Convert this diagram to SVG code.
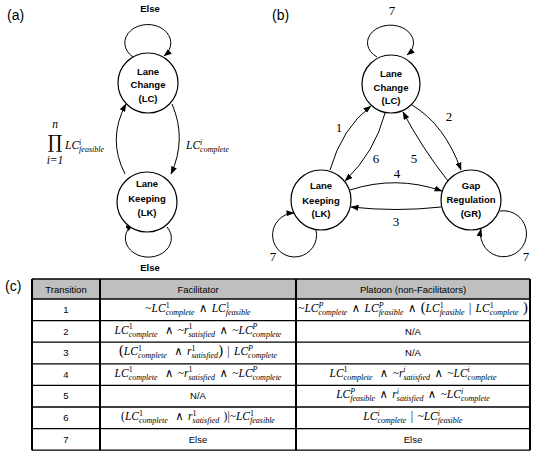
<svg xmlns="http://www.w3.org/2000/svg" width="540" height="462" viewBox="0 0 540 462">
<defs>
<marker id="ah" markerWidth="8" markerHeight="6" refX="7.5" refY="3" orient="auto" markerUnits="userSpaceOnUse"><path d="M0,0 L8,3 L0,6 z" fill="#000"/></marker>
<style>
.nd{fill:#fff;stroke:#000;stroke-width:1.2}
.nt{font-family:"Liberation Sans",Arial,sans-serif;font-weight:bold;font-size:9.5px;text-anchor:middle;fill:#000}
.ed{fill:none;stroke:#000;stroke-width:1;marker-end:url(#ah)}
.pl{font-family:"Liberation Sans",Arial,sans-serif;font-size:14px;fill:#000}
.el{font-family:"Liberation Serif","Times New Roman",serif;font-size:13px;text-anchor:middle;fill:#000}
.m{font-family:"Liberation Serif","DejaVu Serif",serif;font-style:italic;font-size:11.5px;text-anchor:middle;fill:#000;word-spacing:1.5px}
.s{font-size:8px;font-style:italic}
.u{font-size:8px;font-style:normal}
.t{font-family:"Liberation Sans",Arial,sans-serif;font-size:9.5px;text-anchor:middle;fill:#000}
.bp{font-size:14.5px;font-style:normal}
</style>
</defs>

<!-- Panel labels -->
<text class="pl" x="7" y="20">(a)</text>
<text class="pl" x="272" y="20">(b)</text>
<text class="pl" x="5" y="291">(c)</text>

<!-- Panel (a) connectors -->
<g id="edges-a">
<path class="ed" d="M133,57 A23,18.4 0 1 1 164,56"/>
<path class="ed" d="M167,227 A23,19 0 1 1 133,224"/>
<path class="ed" d="M125,174 Q107,139 126,104"/>
<path class="ed" d="M172,104 Q187,139 171,174"/>
</g>
<g id="labels-a">
<text class="nt" x="150" y="12" font-size="10">Else</text>
<text class="nt" x="150" y="271" font-size="10">Else</text>
<text x="55" y="148" font-family="DejaVu Serif,serif" font-size="18" text-anchor="middle">∏</text>
<text x="55" y="128" class="m" font-size="8">n</text>
<text x="55" y="164" class="m" font-size="8" font-style="normal">i=1</text>
<text x="65" y="149" class="m" style="text-anchor:start">LC<tspan class="s" dy="-4.5">i</tspan><tspan class="s" dx="-2.2" dy="7.5">feasible</tspan></text>
<text x="186" y="149" class="m" style="text-anchor:start">LC<tspan class="s" dy="-4.5">i</tspan><tspan class="s" dx="-2.2" dy="7.5">complete</tspan></text>
</g>
<g id="a-LC">
<circle class="nd" cx="148" cy="83" r="30"/>
<text class="nt" x="148" y="74.5">Lane</text>
<text class="nt" x="148" y="87.5">Change</text>
<text class="nt" x="148" y="101.5">(LC)</text>
</g>
<g id="a-LK">
<circle class="nd" cx="147" cy="202" r="30"/>
<text class="nt" x="147" y="186.5">Lane</text>
<text class="nt" x="147" y="201.5">Keeping</text>
<text class="nt" x="147" y="215.5">(LK)</text>
</g>

<!-- Panel (b) connectors -->
<g id="edges-b">
<path class="ed" d="M377,57 A23,17.6 0 1 1 407,55"/>
<path class="ed" d="M316,230 A22,22 0 1 1 294,213"/>
<path class="ed" d="M500,211 A23,23 0 1 1 481,229"/>
<path class="ed" d="M330,170 Q342,128 371,106"/>
<path class="ed" d="M385,113 Q375,152 345,181"/>
<path class="ed" d="M412,105 Q445,125 461,170"/>
<path class="ed" d="M448,181 Q422,148 403,112"/>
<path class="ed" d="M350,190 Q396,175 442,191"/>
<path class="ed" d="M441,207 Q396,212 351,207"/>
</g>
<g id="labels-b">
<text class="el" x="392" y="15">7</text>
<text class="el" x="273" y="261">7</text>
<text class="el" x="526" y="261">7</text>
<text class="el" x="339" y="132">1</text>
<text class="el" x="449" y="121">2</text>
<text class="el" x="396" y="226">3</text>
<text class="el" x="397" y="178">4</text>
<text class="el" x="414" y="163">5</text>
<text class="el" x="376" y="163">6</text>
</g>
<g id="b-LC">
<circle class="nd" cx="391" cy="84" r="29"/>
<text class="nt" x="391" y="76.5">Lane</text>
<text class="nt" x="391" y="90.5">Change</text>
<text class="nt" x="391" y="103.5">(LC)</text>
</g>
<g id="b-LK">
<circle class="nd" cx="321" cy="200" r="30"/>
<text class="nt" x="321" y="188.5">Lane</text>
<text class="nt" x="321" y="203.5">Keeping</text>
<text class="nt" x="321" y="216.5">(LK)</text>
</g>
<g id="b-GR">
<circle class="nd" cx="471" cy="200" r="30"/>
<text class="nt" x="471" y="188.5">Gap</text>
<text class="nt" x="471" y="202.5">Regulation</text>
<text class="nt" x="471" y="216.5">(GR)</text>
</g>

<!-- Panel (c) table -->
<g id="table">
<rect x="32" y="279" width="498" height="20" fill="#bfbfbf"/>
<g stroke="#000" stroke-width="1.3" fill="none">
<line x1="32" y1="299" x2="530" y2="299"/>
<line x1="32" y1="320.6" x2="530" y2="320.6"/>
<line x1="32" y1="342.2" x2="530" y2="342.2"/>
<line x1="32" y1="363.8" x2="530" y2="363.8"/>
<line x1="32" y1="385.4" x2="530" y2="385.4"/>
<line x1="32" y1="407" x2="530" y2="407"/>
<line x1="32" y1="428.6" x2="530" y2="428.6"/>
<line x1="32" y1="279" x2="530" y2="279"/>
<line x1="32" y1="450.2" x2="530" y2="450.2"/>
</g>
<g stroke="#000" stroke-width="2" fill="none">
<line x1="32" y1="279" x2="32" y2="450.2"/>
<line x1="100" y1="279" x2="100" y2="450.2"/>
<line x1="296" y1="279" x2="296" y2="450.2"/>
<line x1="530" y1="279" x2="530" y2="450.2"/>
</g>
<text class="t" x="66" y="292.5">Transition</text>
<text class="t" x="198" y="292.5">Facilitator</text>
<text class="t" x="413" y="292.5">Platoon (non-Facilitators)</text>

<text class="t" x="66" y="313">1</text>
<text class="t" x="66" y="334.6">2</text>
<text class="t" x="66" y="356.2">3</text>
<text class="t" x="66" y="377.8">4</text>
<text class="t" x="66" y="399.4">5</text>
<text class="t" x="66" y="421">6</text>
<text class="t" x="66" y="442.6">7</text>

<!-- Row 1 -->
<text x="198" y="312" class="m"><tspan font-style="normal">~</tspan>LC<tspan class="u" dy="-4.5">1</tspan><tspan class="s" dx="-4" dy="7.5">complete</tspan><tspan dy="-3"> <tspan font-style="normal">∧</tspan> LC</tspan><tspan class="u" dy="-4.5">1</tspan><tspan class="s" dx="-4" dy="7.5">feasible</tspan></text>
<text x="413" y="312" class="m"><tspan font-style="normal">~</tspan>LC<tspan class="s" dy="-4.5">P</tspan><tspan class="s" dx="-4.9" dy="7.5">complete</tspan><tspan dy="-3"> <tspan font-style="normal">∧</tspan> LC</tspan><tspan class="s" dy="-4.5">P</tspan><tspan class="s" dx="-4.9" dy="7.5">feasible</tspan><tspan dy="-3"> <tspan font-style="normal">∧</tspan> </tspan><tspan class="bp">(</tspan>LC<tspan class="u" dy="-4.5">1</tspan><tspan class="s" dx="-4" dy="7.5">feasible</tspan><tspan dy="-3" font-style="normal"> | </tspan>LC<tspan class="u" dy="-4.5">1</tspan><tspan class="s" dx="-4" dy="7.5">complete</tspan><tspan dy="-3"> </tspan><tspan class="bp">)</tspan></text>

<!-- Row 2 -->
<text x="198" y="333.6" class="m">LC<tspan class="u" dy="-4.5">1</tspan><tspan class="s" dx="-4" dy="7.5">complete</tspan><tspan dy="-3" dx="3"> <tspan font-style="normal">∧</tspan> <tspan font-style="normal">~</tspan>r</tspan><tspan class="u" dy="-4.5">1</tspan><tspan class="s" dx="-4" dy="7.5">satisfied</tspan><tspan dy="-3"> <tspan font-style="normal">∧</tspan> <tspan font-style="normal">~</tspan>LC</tspan><tspan class="s" dy="-4.5">P</tspan><tspan class="s" dx="-4.9" dy="7.5">complete</tspan></text>
<text class="t" x="413" y="334.6">N/A</text>

<!-- Row 3 -->
<text x="198" y="355.2" class="m"><tspan class="bp">(</tspan>LC<tspan class="u" dy="-4.5">1</tspan><tspan class="s" dx="-4" dy="7.5">complete</tspan><tspan dy="-3" dx="3"> <tspan font-style="normal">∧</tspan> r</tspan><tspan class="u" dy="-4.5">1</tspan><tspan class="s" dx="-4" dy="7.5">satisfied</tspan><tspan dy="-3" class="bp">)</tspan><tspan font-style="normal"> | </tspan>LC<tspan class="s" dy="-4.5">P</tspan><tspan class="s" dx="-4.9" dy="7.5">complete</tspan></text>
<text class="t" x="413" y="356.2">N/A</text>

<!-- Row 4 -->
<text x="198" y="376.8" class="m">LC<tspan class="u" dy="-4.5">1</tspan><tspan class="s" dx="-4" dy="7.5">complete</tspan><tspan dy="-3" dx="3"> <tspan font-style="normal">∧</tspan> <tspan font-style="normal">~</tspan>r</tspan><tspan class="u" dy="-4.5">1</tspan><tspan class="s" dx="-4" dy="7.5">satisfied</tspan><tspan dy="-3"> <tspan font-style="normal">∧</tspan> <tspan font-style="normal">~</tspan>LC</tspan><tspan class="s" dy="-4.5">P</tspan><tspan class="s" dx="-4.9" dy="7.5">complete</tspan></text>
<text x="413" y="376.8" class="m">LC<tspan class="u" dy="-4.5">1</tspan><tspan class="s" dx="-4" dy="7.5">complete</tspan><tspan dy="-3" dx="3"> <tspan font-style="normal">∧</tspan> <tspan font-style="normal">~</tspan>r</tspan><tspan class="s" dy="-4.5">i</tspan><tspan class="s" dx="-2.2" dy="7.5">satisfied</tspan><tspan dy="-3"> <tspan font-style="normal">∧</tspan> <tspan font-style="normal">~</tspan>LC</tspan><tspan class="s" dy="-4.5">i</tspan><tspan class="s" dx="-2.2" dy="7.5">complete</tspan></text>

<!-- Row 5 -->
<text class="t" x="198" y="399.4">N/A</text>
<text x="413" y="398.4" class="m">LC<tspan class="s" dy="-4.5">P</tspan><tspan class="s" dx="-4.9" dy="7.5">feasible</tspan><tspan dy="-3"> <tspan font-style="normal">∧</tspan> r</tspan><tspan class="s" dy="-4.5">i</tspan><tspan class="s" dx="-2.2" dy="7.5">satisfied</tspan><tspan dy="-3"> <tspan font-style="normal">∧</tspan> <tspan font-style="normal">~</tspan>LC</tspan><tspan class="s" dy="-4.5">i</tspan><tspan class="s" dx="-2.2" dy="7.5">complete</tspan></text>

<!-- Row 6 -->
<text x="198" y="420" class="m"><tspan font-style="normal">(</tspan>LC<tspan class="u" dy="-4.5">1</tspan><tspan class="s" dx="-4" dy="7.5">complete</tspan><tspan dy="-3" dx="3"> <tspan font-style="normal">∧</tspan> r</tspan><tspan class="u" dy="-4.5">1</tspan><tspan class="s" dx="-4" dy="7.5">satisfied</tspan><tspan dy="-3" font-style="normal"> )|~</tspan>LC<tspan class="u" dy="-4.5">1</tspan><tspan class="s" dx="-4" dy="7.5">feasible</tspan></text>
<text x="413" y="420" class="m">LC<tspan class="s" dy="-4.5">i</tspan><tspan class="s" dx="-2.2" dy="7.5">complete</tspan><tspan dy="-3" font-style="normal"> | ~</tspan>LC<tspan class="s" dy="-4.5">i</tspan><tspan class="s" dx="-2.2" dy="7.5">feasible</tspan></text>

<!-- Row 7 -->
<text class="t" x="198" y="442.6">Else</text>
<text class="t" x="413" y="442.6">Else</text>
</g>
</svg>
